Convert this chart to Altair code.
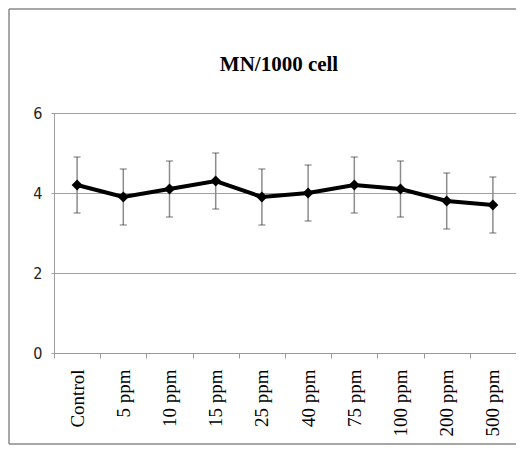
import altair as alt
import pandas as pd

categories = ["Control", "5 ppm", "10 ppm", "15 ppm", "25 ppm", "40 ppm",
              "75 ppm", "100 ppm", "200 ppm", "500 ppm"]
means = [4.2, 3.9, 4.1, 4.3, 3.9, 4.0, 4.2, 4.1, 3.8, 3.7]
errors = [0.7, 0.7, 0.7, 0.7, 0.7, 0.7, 0.7, 0.7, 0.7, 0.7]
y_ticks = [0, 2, 4, 6]

df = pd.DataFrame({"dose": categories, "mean": means, "err": errors})
df["lo"] = df["mean"] - df["err"]
df["hi"] = df["mean"] + df["err"]

W, H = 462, 240

x_enc = alt.X(
    "dose:N", sort=categories, title=None,
    scale=alt.Scale(type="band", paddingInner=0, paddingOuter=0),
    axis=alt.Axis(labelAngle=-90, tickBand="extent", labelFont="Liberation Serif",
                  labelFontSize=19, labelColor="black", labelPadding=11,
                  tickSize=5, tickColor="#999999", domainColor="#999999",
                  grid=False),
)
y_scale = alt.Scale(domain=[0, 6], nice=False, zero=True)
y_axis = alt.Axis(values=y_ticks, grid=True, gridColor="#a0a0a0", domainColor="#a0a0a0",
                  tickColor="#a0a0a0", tickSize=3, labelFont="Liberation Sans Narrow, DejaVu Sans Condensed, sans-serif",
                  labelFontSize=16, labelColor="#222222", labelPadding=9)

base = alt.Chart(df)

bars = base.mark_rule(color="#8c8c8c", strokeWidth=1.5).encode(
    x=x_enc,
    y=alt.Y("lo:Q", scale=y_scale, axis=y_axis, title=None),
    y2="hi:Q",
)
caps_lo = base.mark_tick(color="#333333", size=7, thickness=1, orient="horizontal").encode(
    x=x_enc, y=alt.Y("lo:Q", scale=y_scale, title=None)
)
caps_hi = base.mark_tick(color="#333333", size=7, thickness=1, orient="horizontal").encode(
    x=x_enc, y=alt.Y("hi:Q", scale=y_scale, title=None)
)
line = base.mark_line(color="black", strokeWidth=4).encode(
    x=x_enc, y=alt.Y("mean:Q", scale=y_scale, title=None)
)
points = base.mark_point(shape="diamond", filled=True, color="black", size=120, opacity=1).encode(
    x=x_enc, y=alt.Y("mean:Q", scale=y_scale, title=None)
)
frame = alt.Chart(alt.Data(values=[{}])).mark_rule(
    color="#8a8a8a", strokeWidth=1.5
).encode(
    x=alt.value(-45), y=alt.value(-104), y2=alt.value(331)
)
frame_top = alt.Chart(alt.Data(values=[{}])).mark_rule(
    color="#8a8a8a", strokeWidth=1.5
).encode(
    x=alt.value(-45), x2=alt.value(470), y=alt.value(-104)
)
frame_bottom = alt.Chart(alt.Data(values=[{}])).mark_rule(
    color="#8a8a8a", strokeWidth=1.5
).encode(
    x=alt.value(-45), x2=alt.value(470), y=alt.value(331)
)

chart = alt.layer(bars, caps_lo, caps_hi, line, points, frame, frame_top, frame_bottom).properties(
    width=W, height=H,
    autosize=alt.AutoSizeParams(type="none"),
    padding={"left": 46, "top": 105, "right": 0, "bottom": 92},
    title=alt.TitleParams("MN/1000 cell", font="Liberation Serif", fontSize=21,
                          fontWeight="bold", color="black", frame="group",
                          offset=-67, anchor="middle", dx=-6),
).configure_view(stroke="transparent").configure(background="white")

chart.save("out.html", embed_options={"renderer": "svg", "actions": False})
